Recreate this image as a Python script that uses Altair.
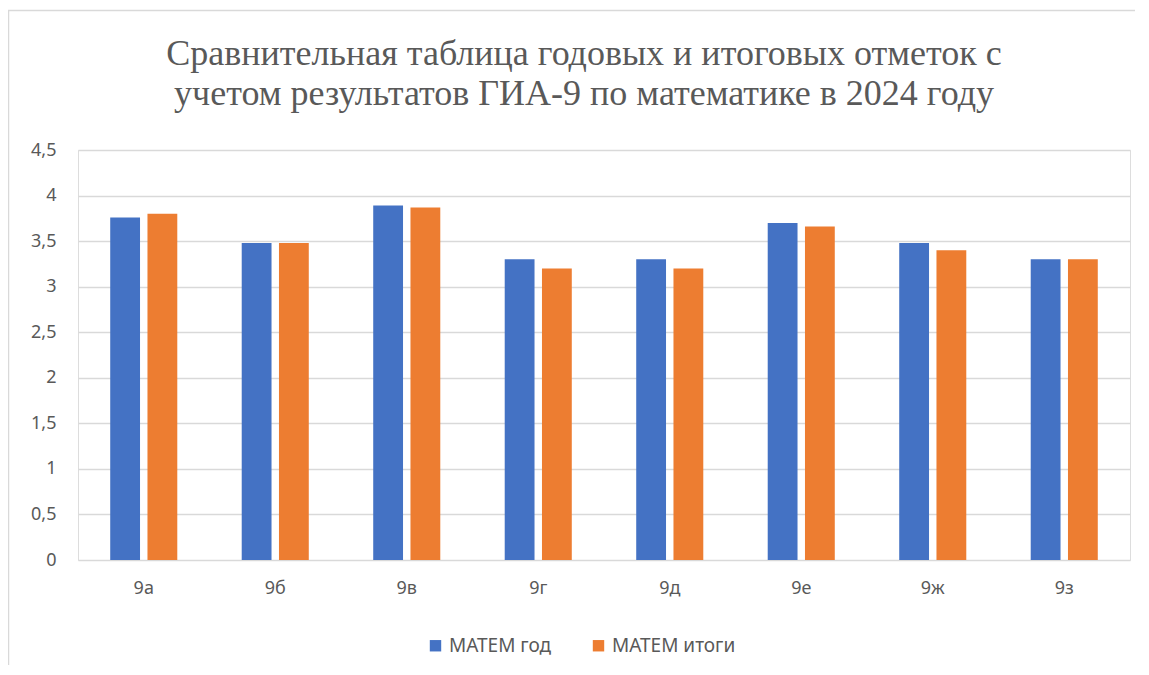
import altair as alt
import pandas as pd

classes = ["9а", "9б", "9в", "9г", "9д", "9е", "9ж", "9з"]
series = ["МАТЕМ год", "МАТЕМ итоги"]
god = [3.76, 3.48, 3.89, 3.30, 3.30, 3.70, 3.48, 3.30]
itogi = [3.80, 3.48, 3.87, 3.20, 3.20, 3.66, 3.40, 3.30]
colors = ["#4472C4", "#ED7D31"]

rows = []
for c, a, b in zip(classes, god, itogi):
    rows.append({"cls": c, "series": series[0], "value": a})
    rows.append({"cls": c, "series": series[1], "value": b})
df = pd.DataFrame(rows)

W, H = 1052, 410
txt = "#595959"
font = "Noto Sans"

bars = alt.Chart(df).mark_bar().encode(
    x=alt.X("cls:N", sort=classes, title=None,
            scale=alt.Scale(paddingInner=0.49, paddingOuter=0.245),
            axis=alt.Axis(labelAngle=0, ticks=False, domain=False, grid=False,
                          labelFontSize=18, labelColor=txt, labelFont=font, labelPadding=19)),
    xOffset=alt.XOffset("series:N", sort=series,
                        scale=alt.Scale(paddingInner=0.2, paddingOuter=0)),
    y=alt.Y("value:Q", title=None,
            scale=alt.Scale(domain=[0, 4.5], nice=False),
            axis=alt.Axis(values=[0, 0.5, 1, 1.5, 2, 2.5, 3, 3.5, 4, 4.5],
                          labelExpr="replace(format(datum.value, '~g'), '.', ',')",
                          ticks=False, domain=False, gridColor="#D9D9D9", gridWidth=1.3,
                          labelFontSize=18, labelColor=txt, labelFont=font, labelPadding=22)),
    color=alt.Color("series:N", sort=series,
                    scale=alt.Scale(domain=series, range=colors),
                    legend=alt.Legend(title=None, orient="none", direction="horizontal",
                                      legendX=348, legendY=486, symbolType="square",
                                      symbolSize=130, symbolStrokeWidth=0,
                                      labelFontSize=19, labelColor=txt, labelFont=font,
                                      columnPadding=37, symbolOffset=0)),
)

border = alt.Chart(pd.DataFrame({"a": [0]})).mark_rect(
    fill=None, stroke="#D9D9D9", strokeWidth=1.5
).encode(x=alt.value(-69.5), x2=alt.value(W + 60), y=alt.value(-139.5), y2=alt.value(H + 140))

chart = alt.layer(border, bars).properties(
    width=W, height=H,
    title=alt.Title(["Сравнительная таблица годовых и итоговых отметок с",
                     "учетом результатов ГИА-9 по математике в 2024 году"],
                    font="Liberation Serif", fontSize=36, fontWeight="normal",
                    color=txt, anchor="middle", lineHeight=40, baseline="alphabetic",
                    offset=-131, dx=-20),
    autosize="none", padding={"left": 70, "top": 142, "right": 5, "bottom": 105},
).configure_view(stroke=None).configure(background="white")

chart.save("out.html", embed_options={"renderer": "svg", "actions": False})
